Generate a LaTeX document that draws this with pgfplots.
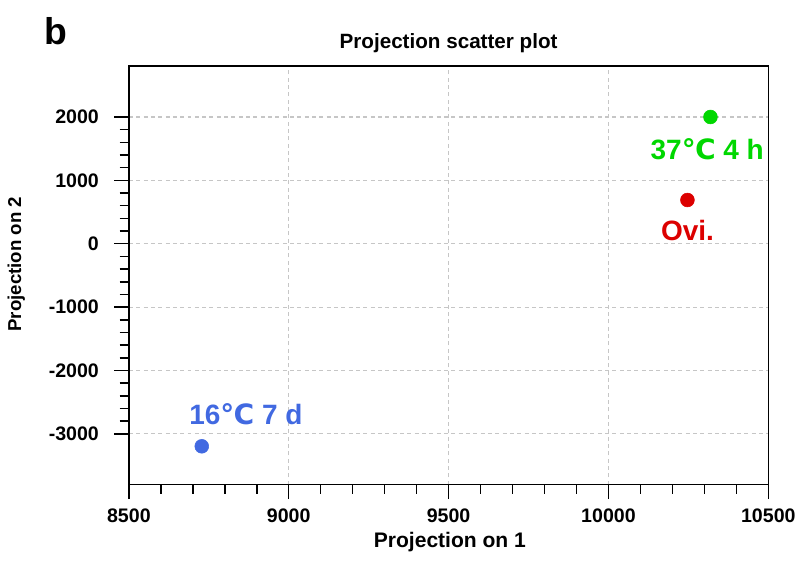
\documentclass[border=0pt]{standalone}
\usepackage{pgfplots}
\pgfplotsset{compat=1.18}
\usepackage{fontspec}
\setmainfont{Liberation Sans}
\newfontfamily\dejavu{DejaVu Sans}
\definecolor{cblue}{RGB}{65,105,225}
\definecolor{cgreen}{RGB}{0,215,0}
\definecolor{cred}{RGB}{220,0,0}
\begin{document}
\begin{tikzpicture}[x=1pt,y=1pt]
\path (-96.75,-60) rectangle (503.25,363.75);
\begin{axis}[
  at={(0,0)}, anchor=south west,
  scale only axis, width=480pt, height=314pt,
  xmin=8500, xmax=10500, ymin=-3800, ymax=2800,
  xtick={8500,9000,9500,10000,10500},
  ytick={-3000,-2000,-1000,0,1000,2000},
  scaled ticks=false,
  minor x tick num=4, minor y tick num=4,
  tick align=outside, xtick pos=bottom, ytick pos=left,
  major tick length=11pt, minor tick length=7pt,
  tick style={black, line width=1.1pt},
  axis line style={line width=1.2pt},
  grid=major,
  major grid style={gray!45, line width=0.9pt, dash pattern=on 3pt off 2.5pt},
  /pgf/number format/assume math mode=true,
  /pgf/number format/set thousands separator={},
  ticklabel style={font=\fontsize{14.7}{16}\selectfont\bfseries},
  xticklabel style={yshift=-4pt},
  yticklabel style={xshift=-8pt},
  xlabel={Projection on 1},
  ylabel={Projection on 2},
  xlabel style={font=\fontsize{15.8}{17}\selectfont\bfseries, at={(axis description cs:0.502,0)}, anchor=center, yshift=-43pt},
  ylabel style={font=\fontsize{14}{16}\selectfont\bfseries, at={(axis description cs:-0.176,0.527)}, anchor=center},
  title={Projection scatter plot},
  title style={font=\fontsize{15.5}{17}\selectfont\bfseries, at={(axis description cs:0.5,1)}, anchor=center, yshift=11.5pt},
  clip=false,
]
\addplot[only marks, mark=*, mark size=5.2pt, cblue, mark options={draw=cblue, fill=cblue}] coordinates {(8728,-3196)};
\addplot[only marks, mark=*, mark size=5.2pt, cgreen, mark options={draw=cgreen, fill=cgreen}] coordinates {(10319,2000)};
\addplot[only marks, mark=*, mark size=5.2pt, cred, mark options={draw=cred, fill=cred}] coordinates {(10247,690)};
\node[cgreen, font=\fontsize{21}{24}\selectfont\bfseries] at (axis cs:10309,1487) {37{\dejavu\bfseries ℃} 4 h};
\node[cred, font=\fontsize{21}{24}\selectfont\bfseries] at (axis cs:10247,206) {Ovi.};
\node[cblue, font=\fontsize{21}{24}\selectfont\bfseries] at (axis cs:8866,-2690) {16{\dejavu\bfseries ℃} 7 d};
\end{axis}
\node[font=\fontsize{28}{32}\selectfont\bfseries] at (-54.75,340) {b};
\end{tikzpicture}
\end{document}
